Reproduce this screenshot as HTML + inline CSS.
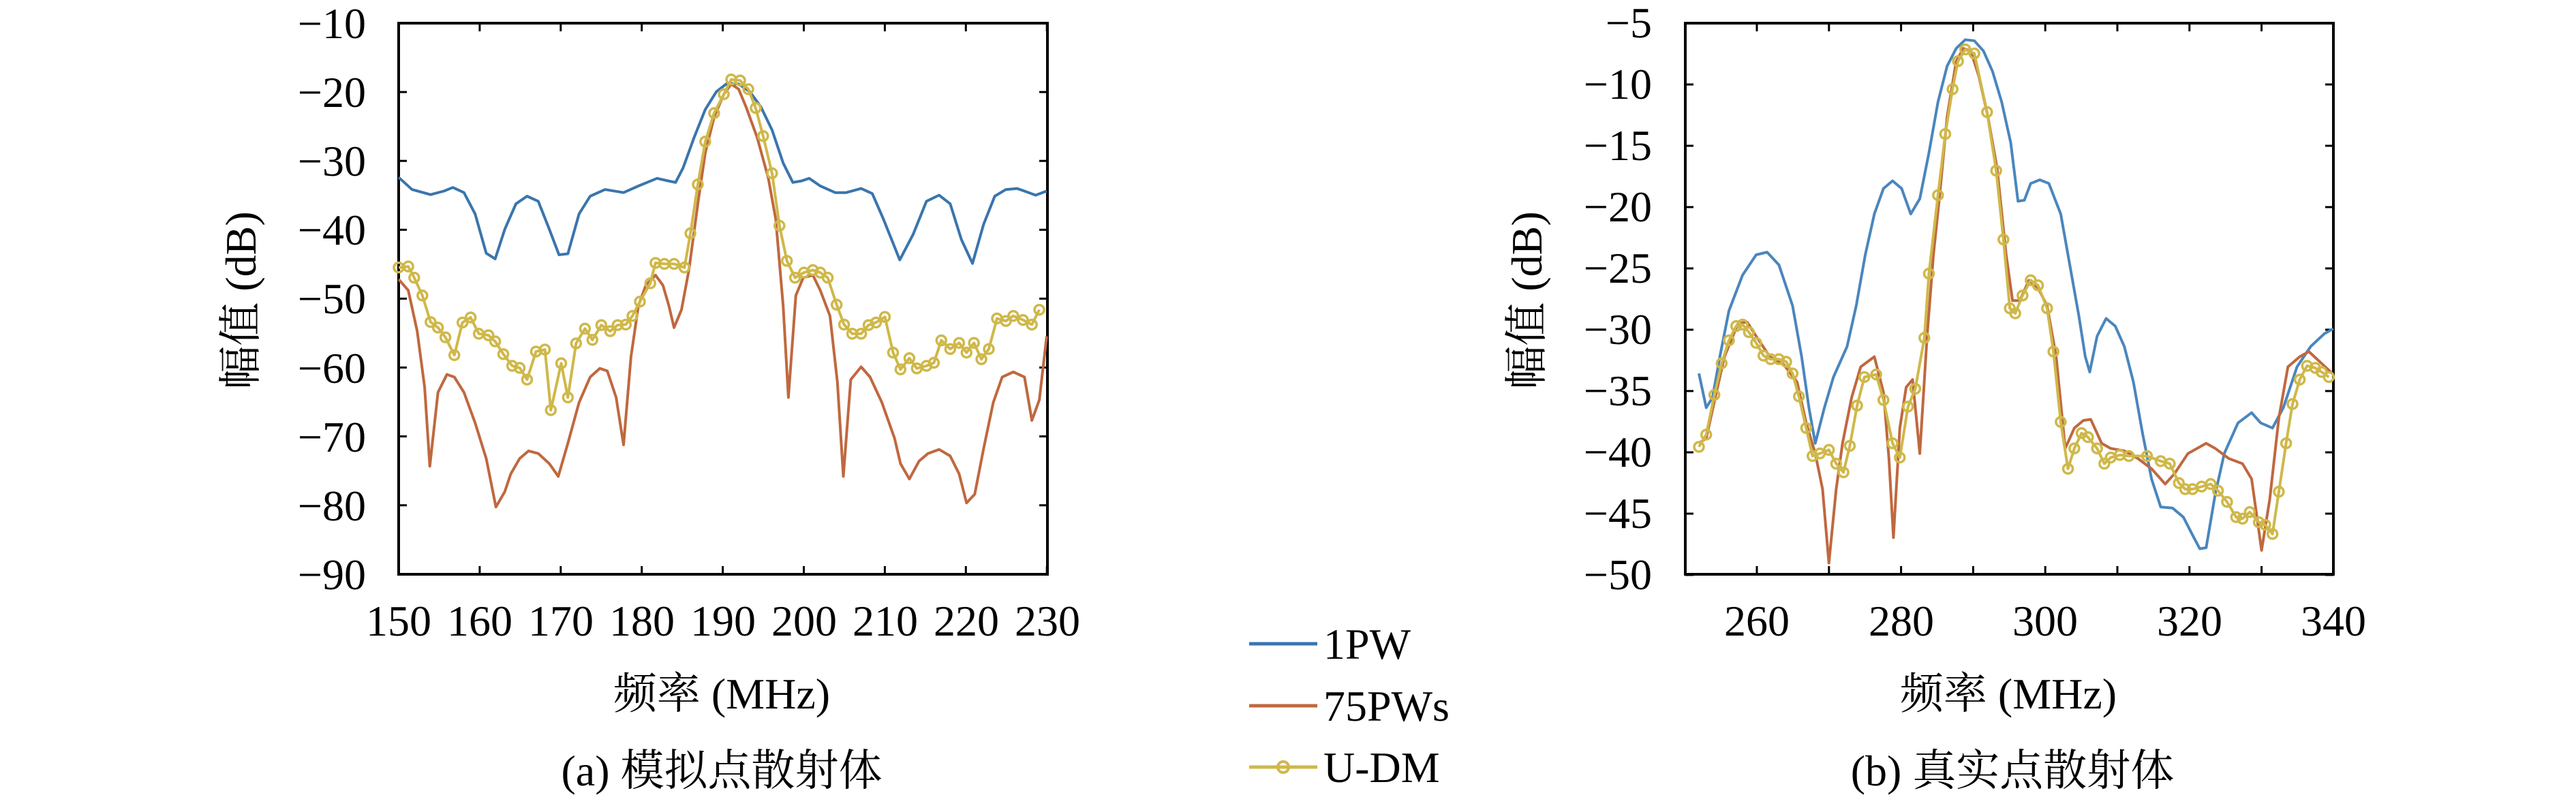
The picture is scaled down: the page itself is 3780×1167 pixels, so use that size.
<!DOCTYPE html>
<html><head><meta charset="utf-8"><style>
html,body{margin:0;padding:0;background:#fff;}
svg{display:block;}
text{font-family:"Liberation Serif","Noto Serif CJK SC","Noto Sans CJK SC",serif;fill:#000;}
</style></head><body>
<svg id="s" width="3780" height="1167" viewBox="0 0 3780 1167" xmlns="http://www.w3.org/2000/svg">
<g id="g"></g>
<!-- Panel a labels -->
<g font-size="64" text-anchor="end">
<text x="537" y="56">−10</text><text x="537" y="157">−20</text><text x="537" y="258">−30</text>
<text x="537" y="359">−40</text><text x="537" y="460">−50</text><text x="537" y="562">−60</text>
<text x="537" y="663">−70</text><text x="537" y="764">−80</text><text x="537" y="865">−90</text>
</g>
<g font-size="64" text-anchor="middle">
<text x="585" y="933">150</text><text x="704" y="933">160</text><text x="823" y="933">170</text>
<text x="942" y="933">180</text><text x="1061" y="933">190</text><text x="1180" y="933">200</text>
<text x="1299" y="933">210</text><text x="1418" y="933">220</text><text x="1537" y="933">230</text>
<text x="1059" y="1040">频率 (MHz)</text>
<text x="1059" y="1153">(a) 模拟点散射体</text>
<text transform="translate(375,441) rotate(-90)">幅值 (dB)</text>
</g>
<!-- Panel b labels -->
<g font-size="64" text-anchor="end">
<text x="2424" y="55">−5</text><text x="2424" y="145">−10</text><text x="2424" y="235">−15</text>
<text x="2424" y="325">−20</text><text x="2424" y="415">−25</text><text x="2424" y="505">−30</text>
<text x="2424" y="595">−35</text><text x="2424" y="685">−40</text><text x="2424" y="775">−45</text>
<text x="2424" y="865">−50</text>
</g>
<g font-size="64" text-anchor="middle">
<text x="2578" y="933">260</text><text x="2790" y="933">280</text><text x="3001" y="933">300</text>
<text x="3213" y="933">320</text><text x="3424" y="933">340</text>
<text x="2947" y="1040">频率 (MHz)</text>
<text x="2953" y="1153">(b) 真实点散射体</text>
<text transform="translate(2262,441) rotate(-90)">幅值 (dB)</text>
</g>
<!-- Legend -->
<line x1="1833" y1="945" x2="1933" y2="945" stroke="#3a75ad" stroke-width="5"/>
<line x1="1833" y1="1036" x2="1933" y2="1036" stroke="#c0683f" stroke-width="5"/>
<line x1="1833" y1="1126" x2="1933" y2="1126" stroke="#cfb84a" stroke-width="5"/>
<circle cx="1883" cy="1126" r="8" fill="none" stroke="#cfb84a" stroke-width="4"/>
<g font-size="64"><text x="1942" y="967">1PW</text><text x="1942" y="1058">75PWs</text><text x="1942" y="1148">U-DM</text></g>
</svg>
<script>
var NS="http://www.w3.org/2000/svg",g=document.getElementById("g");
function el(n,a){var e=document.createElementNS(NS,n);for(var k in a)e.setAttribute(k,a[k]);g.appendChild(e);return e;}
function poly(pts,tx,col,mark){var s=pts.map(function(p){var q=tx(p);return q[0].toFixed(1)+","+q[1].toFixed(1)}).join(" ");
el("polyline",{points:s,fill:"none",stroke:col,"stroke-width":4,"stroke-linejoin":"round"});
if(mark)pts.forEach(function(p){var q=tx(p);el("circle",{cx:q[0],cy:q[1],r:7,fill:"none",stroke:col,"stroke-width":3.5});});}
function axes(L,R,T,B,xt,yt){
el("rect",{x:L,y:T,width:R-L,height:B-T,fill:"none",stroke:"#000","stroke-width":4});
xt.forEach(function(x){el("line",{x1:x,y1:B,x2:x,y2:B-12,stroke:"#000","stroke-width":3});el("line",{x1:x,y1:T,x2:x,y2:T+12,stroke:"#000","stroke-width":3});});
yt.forEach(function(y){el("line",{x1:L,y1:y,x2:L+12,y2:y,stroke:"#000","stroke-width":3});el("line",{x1:R,y1:y,x2:R-12,y2:y,stroke:"#000","stroke-width":3});});}
var xa=[],ya=[];for(var i=0;i<=8;i++){xa.push(585+i*118.9);ya.push(34+i*101.1);}
axes(585,1537,34,843,xa,ya);
var xb=[],yb=[];for(var i=0;i<9;i++)xb.push(2578+i*105.8);for(var i=0;i<=9;i++)yb.push(34+i*90);
axes(2473,3424,34,843,xb,yb);
function ta(p){return [p[0]/0.918,p[1]/1.337];}
function tb(p){return [2473+(p[0]-582)*(951/713),p[1]/1.337];}
var ab=[[537,348],[555,372],[580,382],[598,375],[610,368],[625,378],[640,420],[655,497],[667,508],[680,450],[695,400],[710,385],[725,395],[740,450],[753,500],[765,498],[780,420],[795,385],[815,372],[840,378],[860,365],[885,350],[900,355],[910,358],[920,330],[935,270],[950,215],[965,180],[980,163],[995,165],[1010,180],[1025,210],[1040,255],[1055,320],[1068,358],[1080,355],[1090,350],[1105,365],[1125,378],[1140,378],[1160,370],[1175,380],[1190,430],[1212,510],[1230,460],[1248,395],[1265,383],[1280,400],[1295,470],[1310,517],[1325,440],[1340,385],[1355,372],[1370,370],[1380,375],[1395,383],[1410,375]];
var ao=[[537,548],[550,570],[562,650],[572,760],[579,915],[590,770],[602,735],[612,740],[625,770],[640,830],[655,900],[668,995],[680,965],[688,930],[700,900],[712,885],[725,890],[740,910],[752,935],[765,870],[780,790],[795,740],[808,723],[818,728],[830,780],[840,873],[850,700],[860,600],[870,560],[883,540],[893,560],[901,600],[908,643],[918,608],[928,530],[940,400],[950,300],[962,230],[975,185],[985,165],[995,175],[1005,210],[1020,270],[1035,350],[1045,430],[1055,600],[1062,780],[1072,580],[1082,545],[1095,540],[1105,570],[1118,620],[1128,750],[1136,935],[1146,745],[1160,720],[1172,740],[1188,790],[1205,860],[1213,910],[1225,940],[1238,905],[1250,890],[1265,882],[1280,895],[1292,930],[1302,987],[1313,970],[1325,880],[1338,790],[1350,740],[1365,730],[1380,740],[1390,825],[1400,785],[1410,660]];
var ay=[[537,525],[550,523],[558,545],[569,580],[580,632],[590,643],[600,662],[612,697],[623,633],[634,623],[645,655],[658,658],[667,670],[678,695],[690,718],[700,722],[710,745],[722,690],[734,686],[742,805],[756,713],[765,780],[776,674],[788,645],[798,667],[810,638],[822,650],[832,638],[843,637],[852,620],[862,592],[876,556],[883,516],[895,518],[908,518],[922,525],[930,458],[940,362],[950,278],[962,222],[975,185],[985,156],[997,158],[1008,175],[1018,212],[1028,267],[1040,340],[1050,443],[1060,512],[1071,545],[1083,535],[1095,530],[1105,535],[1115,545],[1127,598],[1137,637],[1148,655],[1160,655],[1170,638],[1180,633],[1192,622],[1203,692],[1213,725],[1225,703],[1235,723],[1248,718],[1258,712],[1268,668],[1280,685],[1292,673],[1302,692],[1312,673],[1322,705],[1332,685],[1343,625],[1355,630],[1365,620],[1378,628],[1390,637],[1400,608]];
var bb=[[597,733],[605,800],[612,780],[620,700],[630,610],[645,540],[660,500],[672,495],[685,520],[700,600],[710,700],[718,800],[725,870],[735,800],[745,740],[760,680],[770,600],[780,500],[790,420],[800,370],[810,355],[820,370],[830,420],[840,390],[850,300],[860,200],[870,130],[880,95],[890,78],[900,80],[910,100],[920,140],[930,200],[940,280],[948,395],[955,393],[962,360],[972,353],[982,360],[995,420],[1005,520],[1015,620],[1022,700],[1027,730],[1035,660],[1045,625],[1055,640],[1065,680],[1075,750],[1085,850],[1095,940],[1105,995],[1118,997],[1130,1015],[1140,1050],[1148,1077],[1155,1075],[1165,970],[1175,890],[1190,830],[1205,810],[1215,830],[1228,840],[1240,800],[1255,720],[1270,680],[1285,655],[1295,645]];
var bo=[[597,870],[605,860],[615,780],[625,700],[640,635],[650,632],[660,660],[675,700],[690,715],[705,750],[715,830],[725,890],[733,960],[740,1105],[748,960],[755,870],[765,780],[775,720],[790,700],[800,770],[806,900],[811,1055],[818,840],[825,760],[832,745],[840,890],[848,660],[855,500],[862,380],[870,230],[880,120],[888,95],[896,100],[905,150],[915,230],[925,330],[935,500],[942,590],[950,590],[960,550],[970,565],[980,600],[990,700],[1000,880],[1010,840],[1020,825],[1028,823],[1040,870],[1050,880],[1065,885],[1080,900],[1095,920],[1110,950],[1120,930],[1135,890],[1155,870],[1165,880],[1180,900],[1195,910],[1205,940],[1216,1080],[1225,980],[1235,820],[1245,720],[1258,700],[1268,690],[1280,710],[1295,735]];
var by=[[597,877],[605,853],[614,775],[622,713],[630,668],[638,640],[645,637],[652,652],[660,673],[668,698],[676,705],[685,705],[693,710],[700,733],[707,778],[715,840],[722,895],[730,890],[740,883],[748,910],[756,927],[763,875],[771,796],[779,740],[792,735],[800,785],[810,870],[818,898],[827,798],[835,763],[845,663],[850,537],[860,383],[868,263],[876,175],[882,120],[890,97],[900,105],[914,220],[924,335],[932,470],[939,605],[945,615],[953,580],[962,550],[970,560],[980,605],[987,690],[995,828],[1003,920],[1010,880],[1018,850],[1025,858],[1035,880],[1043,910],[1050,898],[1060,893],[1070,895],[1090,895],[1105,905],[1115,910],[1125,948],[1132,960],[1140,960],[1150,955],[1160,950],[1168,963],[1178,985],[1188,1015],[1195,1018],[1203,1005],[1213,1025],[1220,1030],[1228,1048],[1235,965],[1243,870],[1250,793],[1258,745],[1266,718],[1275,722],[1282,730],[1290,740]];
poly(ab,ta,"#3a75ad");poly(ao,ta,"#c0683f");poly(ay,ta,"#cfb84a",1);
poly(bb,tb,"#4a86bd");poly(bo,tb,"#c0683f");poly(by,tb,"#cfb84a",1);
</script>
</body></html>
